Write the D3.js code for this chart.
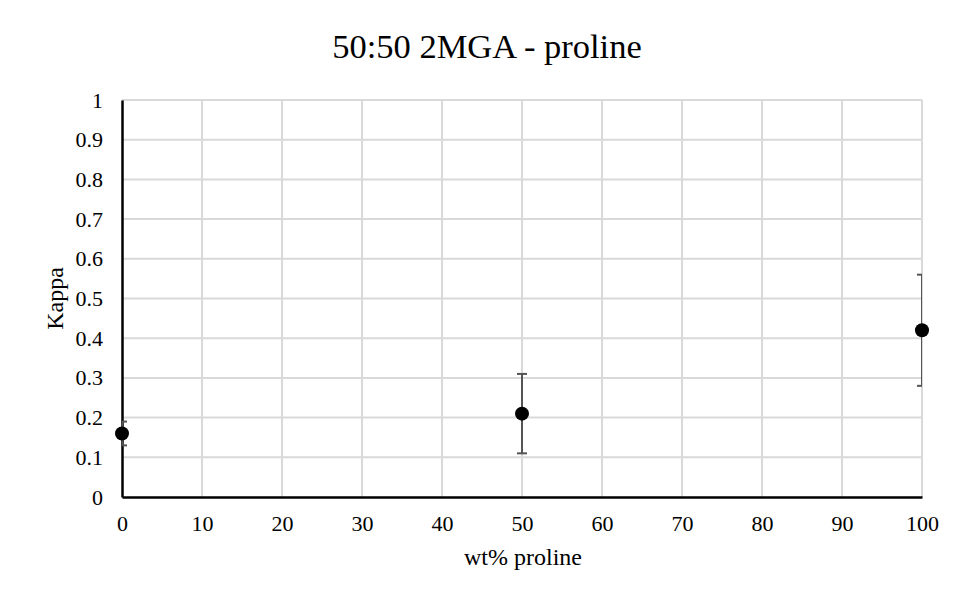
<!DOCTYPE html>
<html>
<head>
<meta charset="utf-8">
<script src="https://cdn.jsdelivr.net/npm/d3@7"></script>
<style>
  body { margin: 0; background: #fff; }
  text { font-family: "Liberation Serif", "Times New Roman", serif; fill: #000; }
</style>
</head>
<body>
<div id="chart"></div>
<script>
// chart values
let X_VALUES = [0, 50, 100];
let Y_VALUES = [0.16, 0.21, 0.42];
let ERR_VALUES = [0.03, 0.10, 0.14];
let X_TICKS = [0, 10, 20, 30, 40, 50, 60, 70, 80, 90, 100];
let Y_TICKS = [0, 0.1, 0.2, 0.3, 0.4, 0.5, 0.6, 0.7, 0.8, 0.9, 1];

let FRAME_WIDTH = 953;
let FRAME_HEIGHT = 595;
let MARGINS = {left: 122, right: 31, top: 100, bottom: 98};

let PLOT_WIDTH = FRAME_WIDTH - MARGINS.left - MARGINS.right;
let PLOT_HEIGHT = FRAME_HEIGHT - MARGINS.top - MARGINS.bottom;

let FRAME = d3.select("#chart")
              .append("svg")
              .attr("width", FRAME_WIDTH)
              .attr("height", FRAME_HEIGHT);

const X_SCALE = d3.scaleLinear().domain([0, 100]).range([0, PLOT_WIDTH]);
const Y_SCALE = d3.scaleLinear().domain([0, 1]).range([PLOT_HEIGHT, 0]);

let plot = FRAME.append("g")
                .attr("transform", "translate(" + MARGINS.left + "," + MARGINS.top + ")");

// clip for error bars (caps get cut at the plot edges)
FRAME.append("defs").append("clipPath")
     .attr("id", "plot-clip")
     .append("rect")
     .attr("x", 0).attr("y", -20)
     .attr("width", PLOT_WIDTH).attr("height", PLOT_HEIGHT + 40);

// gridlines
plot.append("g")
    .selectAll("line")
    .data(Y_TICKS.filter((d) => d > 0))
    .enter()
    .append("line")
      .attr("x1", 0).attr("x2", PLOT_WIDTH)
      .attr("y1", (d) => Y_SCALE(d)).attr("y2", (d) => Y_SCALE(d))
      .attr("stroke", "#d9d9d9").attr("stroke-width", 2);

plot.append("g")
    .selectAll("line")
    .data(X_TICKS.filter((d) => d > 0))
    .enter()
    .append("line")
      .attr("x1", (d) => X_SCALE(d)).attr("x2", (d) => X_SCALE(d))
      .attr("y1", 0).attr("y2", PLOT_HEIGHT)
      .attr("stroke", "#d9d9d9").attr("stroke-width", 2);

// axes
let xAxis = plot.append("g")
    .attr("transform", "translate(0," + PLOT_HEIGHT + ")")
    .call(d3.axisBottom(X_SCALE).tickValues(X_TICKS).tickSize(0).tickPadding(18));
xAxis.select(".domain").attr("stroke", "#000").attr("stroke-width", 2.5);
xAxis.selectAll("text").attr("font-size", "22px")
     .attr("font-family", "Liberation Serif");

let yAxis = plot.append("g")
    .call(d3.axisLeft(Y_SCALE).tickValues(Y_TICKS).tickSize(0).tickPadding(19)
            .tickFormat((d) => (d === 0 || d === 1) ? String(d) : d3.format(".1f")(d)));
yAxis.select(".domain").attr("stroke", "#000").attr("stroke-width", 2.5);
yAxis.selectAll("text").attr("font-size", "22px")
     .attr("font-family", "Liberation Serif");

// error bars
let points = X_VALUES.map((x, i) => ({x: x, y: Y_VALUES[i], e: ERR_VALUES[i]}));

let errs = plot.append("g").attr("clip-path", "url(#plot-clip)")
               .selectAll("g")
               .data(points)
               .enter()
               .append("g");

errs.append("line")
    .attr("x1", (d) => X_SCALE(d.x)).attr("x2", (d) => X_SCALE(d.x))
    .attr("y1", (d) => Y_SCALE(d.y - d.e)).attr("y2", (d) => Y_SCALE(d.y + d.e))
    .attr("stroke", "#555").attr("stroke-width", 2);

[-1, 1].forEach((s) => {
  errs.append("line")
      .attr("x1", (d) => X_SCALE(d.x) - 5).attr("x2", (d) => X_SCALE(d.x) + 5)
      .attr("y1", (d) => Y_SCALE(d.y + s * d.e)).attr("y2", (d) => Y_SCALE(d.y + s * d.e))
      .attr("stroke", "#555").attr("stroke-width", 2);
});

// markers
plot.append("g")
    .selectAll("circle")
    .data(points)
    .enter()
    .append("circle")
      .attr("cx", (d) => X_SCALE(d.x))
      .attr("cy", (d) => Y_SCALE(d.y))
      .attr("r", 7)
      .attr("fill", "#000");

// titles
FRAME.append("text")
     .attr("x", 487).attr("y", 58)
     .attr("text-anchor", "middle")
     .attr("font-size", "34.5px")
     .text("50:50 2MGA - proline");

FRAME.append("text")
     .attr("x", 523).attr("y", 565)
     .attr("text-anchor", "middle")
     .attr("font-size", "24px")
     .text("wt% proline");

FRAME.append("text")
     .attr("transform", "translate(63," + (MARGINS.top + PLOT_HEIGHT / 2) + ") rotate(-90)")
     .attr("text-anchor", "middle")
     .attr("font-size", "24px")
     .text("Kappa");
</script>
</body>
</html>
